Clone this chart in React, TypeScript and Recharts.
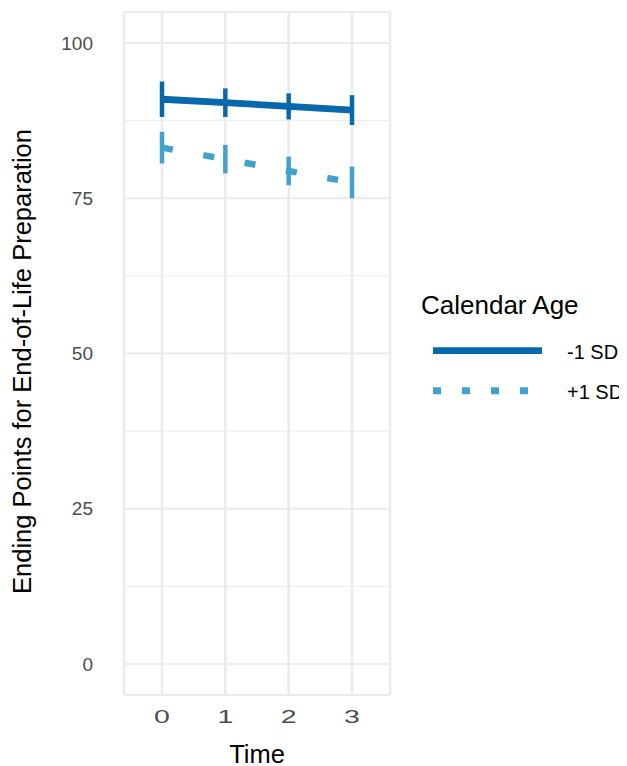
import React from "react";
import {
  ComposedChart,
  Line,
  XAxis,
  YAxis,
  CartesianGrid,
  ErrorBar,
  ReferenceLine,
} from "recharts";

const times = [0, 1, 2, 3];
const minusSDMean = [90.95, 90.4, 89.8, 89.2];
const minusSDLow = [88.1, 88.1, 87.7, 86.8];
const minusSDHigh = [93.8, 92.7, 91.9, 91.6];
const plusSDMean = [83.15, 81.3, 79.4, 77.55];
const plusSDLow = [80.6, 79.0, 77.1, 75.0];
const plusSDHigh = [85.7, 83.6, 81.7, 80.1];
const yTicks = [0, 25, 50, 75, 100];
const yMinorTicks = [12.5, 37.5, 62.5, 87.5];
const seriesNames = ["-1 SD", "+1 SD"];

const data = times.map((t, i) => ({
  time: t,
  minus: minusSDMean[i],
  minusErr: [minusSDMean[i] - minusSDLow[i], minusSDHigh[i] - minusSDMean[i]],
  plus: plusSDMean[i],
  plusErr: [plusSDMean[i] - plusSDLow[i], plusSDHigh[i] - plusSDMean[i]],
}));

const FONT = '"Liberation Sans", Arial, Helvetica, sans-serif';
const DARK = "#0868ac";
const LIGHT = "#42a2cd";
const GRID = "#ebebeb";

const YTitle = (props: any) => {
  const vb = props.viewBox || { x: 0, y: 0, width: 0, height: 0 };
  const x = 23;
  const y = vb.y + vb.height / 2 + 8;
  return (
    <text
      x={x}
      y={y}
      transform={`rotate(-90, ${x}, ${y})`}
      textAnchor="middle"
      fontSize={25.5}
      fontFamily={FONT}
      fill="#000"
    >
      Ending Points for End-of-Life Preparation
    </text>
  );
};

const XTitle = (props: any) => {
  const vb = props.viewBox || { x: 0, y: 0, width: 0, height: 0 };
  return (
    <text
      x={vb.x + vb.width / 2}
      y={vb.y + 67.5}
      textAnchor="middle"
      fontSize={25.5}
      fontFamily={FONT}
      fill="#000"
    >
      Time
    </text>
  );
};

const XTick = (props: any) => {
  const { x, y, payload } = props;
  return (
    <g transform={`translate(${x},${y})`}>
      <text
        x={0}
        y={0}
        dy="0.71em"
        textAnchor="middle"
        transform="scale(1.5,1)"
        fontSize={19}
        fontFamily={FONT}
        fill="#4d4d4d"
      >
        {payload.value}
      </text>
    </g>
  );
};

export default function App() {
  return (
    <div style={{ position: "relative", width: 619, height: 758 }}>
      <ComposedChart
        width={619}
        height={758}
        data={data}
        margin={{ top: 4, right: 237, bottom: 0, left: 16 }}
      >
        <CartesianGrid horizontal={false} stroke={GRID} strokeWidth={2.6} />
        <CartesianGrid vertical={false} stroke={GRID} strokeWidth={2} />
        {yMinorTicks.map((v) => (
          <ReferenceLine key={v} y={v} stroke={GRID} strokeWidth={1} />
        ))}
        <XAxis
          dataKey="time"
          type="number"
          domain={[-0.6, 3.6]}
          ticks={times}
          tickLine={false}
          axisLine={false}
          tickSize={0}
          tickMargin={15}
          height={71}
          tick={<XTick />}
          label={<XTitle />}
        />
        <YAxis
          type="number"
          domain={[-5, 105]}
          ticks={yTicks}
          allowDataOverflow
          tickLine={false}
          axisLine={false}
          tickSize={0}
          tickMargin={31}
          width={100}
          tick={{ fontSize: 19, fill: "#4d4d4d", fontFamily: FONT }}
          label={<YTitle />}
        />
        <Line
          dataKey="minus"
          name={seriesNames[0]}
          type="linear"
          stroke={DARK}
          strokeWidth={6.8}
          dot={false}
          activeDot={false}
          isAnimationActive={false}
        >
          <ErrorBar
            dataKey="minusErr"
            width={0}
            stroke={DARK}
            strokeWidth={4.5}
            isAnimationActive={false}
          />
        </Line>
        <Line
          dataKey="plus"
          name={seriesNames[1]}
          type="linear"
          stroke={LIGHT}
          strokeWidth={6.5}
          strokeDasharray="11 31"
          dot={false}
          activeDot={false}
          isAnimationActive={false}
        >
          <ErrorBar
            dataKey="plusErr"
            width={0}
            stroke={LIGHT}
            strokeWidth={4.5}
            isAnimationActive={false}
          />
        </Line>
      </ComposedChart>
      <svg
        width={214}
        height={130}
        style={{ position: "absolute", left: 405, top: 280, overflow: "visible" }}
      >
        <text x={8} y={26} fontSize={26} fontFamily={FONT} fill="#000">
          Calendar Age
        </text>
        <line x1={20} x2={129} y1={62.7} y2={62.7} stroke={DARK} strokeWidth={6.8} />
        <text x={154} y={71} fontSize={20} fontFamily={FONT} fill="#000">
          {seriesNames[0]}
        </text>
        <line
          x1={20}
          x2={129}
          y1={102.7}
          y2={102.7}
          stroke={LIGHT}
          strokeWidth={7}
          strokeDasharray="8 21"
        />
        <text x={154} y={111} fontSize={20} fontFamily={FONT} fill="#000">
          {seriesNames[1]}
        </text>
      </svg>
    </div>
  );
}
